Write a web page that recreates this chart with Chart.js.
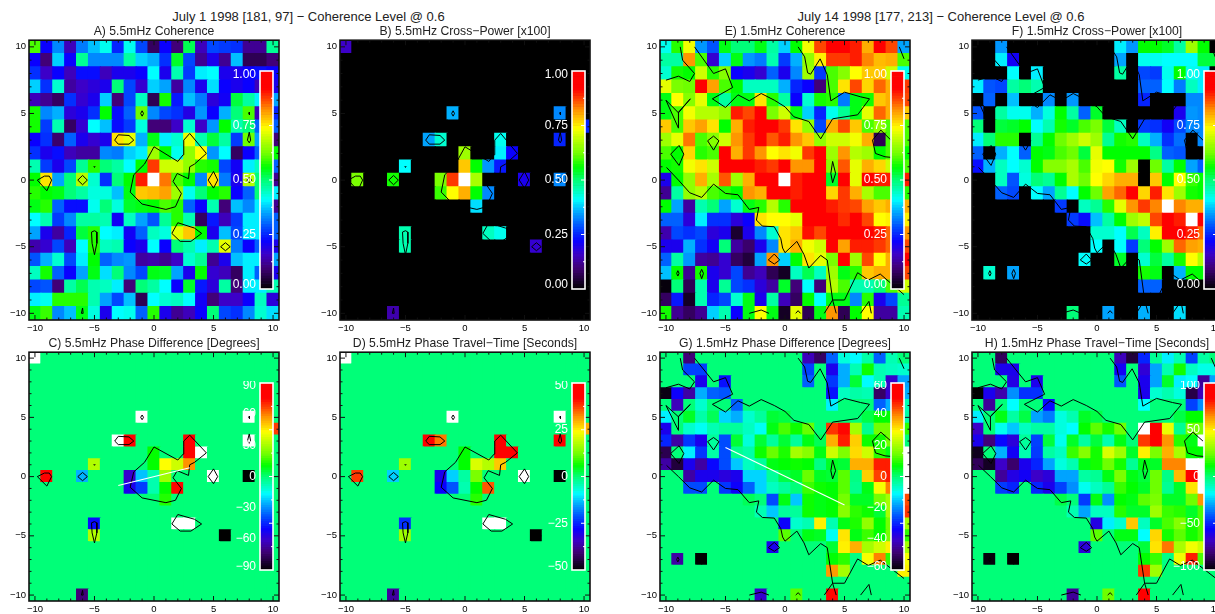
<!DOCTYPE html>
<html>
<head>
<meta charset="utf-8">
<title>Coherence</title>
<script src="https://cdn.jsdelivr.net/npm/chart.js@4"></script>
<style>
html, body { margin: 0; padding: 0; background: #fff; width: 1215px; height: 614px; overflow: hidden; }
canvas { position: absolute; }
.sup { position: absolute; top: 9px; width: 400px; text-align: center; font: 13px "Liberation Sans", sans-serif; color: #222; white-space: nowrap; }
</style>
</head>
<body>
<div class="sup" style="left:108.5px">July 1 1998 [181, 97] − Coherence Level @ 0.6</div>
<div class="sup" style="left:741px">July 14 1998 [177, 213] − Coherence Level @ 0.6</div>
<script>
//grid axes, y goes top to bottom
const xCells = [-10,-9,-8,-7,-6,-5,-4,-3,-2,-1,0,1,2,3,4,5,6,7,8,9,10];
const yCells = [10,9,8,7,6,5,4,3,2,1,0,-1,-2,-3,-4,-5,-6,-7,-8,-9,-10];
const majorTicks = [-10,-5,0,5,10];
const minorTicks = [-9,-8,-7,-6,-4,-3,-2,-1,1,2,3,4,6,7,8,9];

//A) 5.5mHz coherence, full grid
const coherence55 = [
 [.6,.22,.33,.15,.32,.37,.42,.25,.42,.28,.08,.22,.1,.52,.15,.28,.27,.26,.12,.12,.48],
 [.22,.1,.38,.22,.48,.33,.33,.33,.47,.38,.36,.26,.54,.28,.12,.2,.12,.37,.07,.07,.1],
 [.26,.16,.22,.15,.23,.23,.15,.2,.2,.22,.41,.2,.46,.27,.4,.41,.2,.2,.22,.23,.22],
 [.38,.26,.44,.13,.16,.18,.2,.5,.28,.17,.38,.35,.13,.33,.2,.39,.22,.2,.22,.15,.2],
 [.15,.12,.08,.26,.17,.2,.38,.1,.28,.45,.07,.57,.24,.37,.32,.18,.21,.53,.47,.4,.35],
 [.57,.33,.36,.18,.2,.26,.56,.23,.3,.62,.33,.28,.26,.19,.34,.22,.36,.5,.6,.15,.25],
 [.57,.27,.46,.08,.17,.41,.37,.23,.27,.43,.1,.1,.16,.44,.16,.34,.56,.46,.5,.3,.3],
 [.22,.26,.09,.3,.2,.17,.2,.76,.72,.36,.55,.4,.44,.73,.46,.53,.47,.27,.62,.35,.1],
 [.26,.2,.23,.15,.13,.13,.33,.32,.38,.4,.66,.56,.42,.65,.74,.34,.41,.08,.22,.3,.56],
 [.46,.27,.2,.28,.48,.58,.5,.47,.41,.56,.88,.7,.7,.65,.58,.57,.28,.21,.4,.45,.3],
 [.56,.76,.35,.5,.68,.44,.26,.5,.56,.9,1.05,.84,.6,.56,.33,.76,.32,.2,.68,.5,.12],
 [.58,.56,.55,.5,.47,.43,.43,.37,.55,.78,.79,.81,.66,.42,.5,.56,.58,.22,.3,.5,.4],
 [.55,.58,.3,.23,.23,.42,.5,.43,.54,.55,.56,.6,.58,.3,.22,.46,.1,.37,.33,.4,.12],
 [.41,.46,.27,.33,.47,.47,.46,.21,.45,.35,.29,.48,.58,.46,.08,.24,.15,.27,.4,.4,.3],
 [.35,.2,.13,.25,.53,.58,.41,.4,.21,.3,.45,.43,.72,.78,.56,.2,.37,.28,.4,.4,.3],
 [.14,.17,.28,.15,.41,.58,.45,.46,.22,.2,.41,.22,.5,.46,.4,.46,.72,.32,.22,.3,.2],
 [.29,.36,.44,.28,.4,.56,.3,.33,.34,.13,.14,.12,.16,.44,.48,.12,.2,.37,.4,.4,.35],
 [.45,.57,.3,.22,.35,.55,.39,.5,.33,.28,.55,.54,.35,.2,.56,.17,.15,.08,.4,.3,.2],
 [.28,.29,.1,.47,.52,.46,.45,.4,.1,.5,.47,.41,.22,.54,.24,.18,.47,.1,.4,.4,.46],
 [.4,.42,.58,.58,.58,.46,.35,.28,.37,.07,.41,.44,.45,.41,.21,.1,.16,.16,.22,.45,.18],
 [.55,.59,.33,.37,.55,.43,.2,.41,.42,.3,.58,.2,.12,.15,.22,.5,.28,.26,.33,.44,.39]
];

//E) 1.5mHz coherence, full grid
const coherence15 = [
 [.42,.58,.73,.34,.29,.55,.5,.5,.55,.47,.38,.56,.73,.87,.92,.92,.9,.8,.92,.87,.35],
 [.47,.47,.82,.6,.17,.38,.55,.34,.32,.46,.27,.36,.65,.75,.88,.88,.9,.83,.79,.8,.6],
 [.44,.57,.56,.7,.58,.64,.22,.2,.17,.3,.2,.33,.66,.27,.6,.64,.74,.78,.78,.7,.42],
 [.72,.63,.62,.92,.81,.6,.56,.45,.45,.45,.36,.25,.22,.1,.6,.76,.87,.77,.85,.8,.88],
 [.55,.74,.64,.72,.55,.47,.55,.55,.76,.58,.47,.22,.44,.57,.58,.32,.55,.57,.78,.8,.87],
 [.55,.6,.73,.68,.68,.65,.9,.87,.92,.63,.7,.55,.38,.25,.42,.48,.55,.72,.85,.8,.78],
 [.78,.6,.78,.81,.76,.56,.8,.9,.95,.92,.88,.76,.65,.28,.8,.87,.78,.6,.65,.6,.6],
 [.66,.72,.84,.6,.64,.7,.82,.88,.93,.86,.9,.82,.78,.65,.7,.7,.73,.8,.07,.6,.6],
 [.6,.56,.77,.58,.6,.92,.8,.88,.82,.74,.76,.73,.88,.92,.66,.82,.68,.66,.56,.6,.56],
 [.56,.57,.73,.76,.7,.92,.92,.92,.9,.88,.95,.82,.82,.93,.64,.86,.72,.8,.77,.7,.6],
 [.2,.56,.65,.8,.67,.86,.66,.8,.95,.96,1.05,.9,.93,.95,.54,.92,.72,.93,.9,.9,.9],
 [.12,.47,.65,.68,.6,.58,.56,.82,.8,.95,.95,.9,.93,.95,.77,.88,.8,.67,.6,.6,.58],
 [.56,.35,.13,.46,.5,.35,.44,.55,.58,.68,.58,.95,.95,.95,.9,.88,.87,.81,.78,.8,.8],
 [.3,.3,.18,.4,.26,.26,.18,.22,.76,.74,.74,.72,.95,.95,.95,.89,.93,.87,.74,.75,.75],
 [.14,.28,.26,.28,.18,.2,.04,.2,.33,.44,.76,.78,.91,.87,.95,.92,.93,.93,.9,.85,.82],
 [.2,.2,.36,.26,.21,.5,.13,.09,.2,.33,.76,.8,.73,.7,.93,.81,.9,.9,.88,.85,.87],
 [.3,.47,.34,.13,.12,.17,.08,.05,.35,.82,.38,.56,.76,.72,.63,.95,.66,.87,.74,.8,.92],
 [.37,.56,.12,.57,.2,.17,.28,.12,.15,.07,.03,.45,.52,.45,.66,.55,.58,.78,.8,.8,.87],
 [.01,.5,.07,.46,.2,.48,.28,.26,.18,.13,.54,.1,.41,.1,.68,.6,.46,.46,.5,.6,.7],
 [.08,.24,.03,.46,.25,.28,.44,.55,.2,.47,.15,.08,.56,.41,.55,.55,.33,.58,.2,.28,.48],
 [.57,.12,.08,.12,.38,.46,.22,.55,.74,.55,.03,.72,.07,.55,.82,.07,.56,.74,.13,.13,.46]
];

//sparse panels: each row is y, then x,value pairs. Everything else stays at zero
const crossPower55 = [
 [10, -10,.16],
 [5, -1,.36, 8,.33],
 [4, 10,.25],
 [3, -3,.35, -2,.44, 3,.42, 8,.25],
 [2, 0,.66, 3,.4, 4,.22],
 [1, -5,.41, 0,.78, 1,.56, 2,.34, 3,.24],
 [0, -9,.63, -6,.57, -2,.63, -1,.88, 0,1.05, 1,.67, 5,.2, 8,.33],
 [-1, -2,.59, -1,.74, 0,.8, 1,.56, 2,.33],
 [-2, 1,.39],
 [-4, -5,.46, 2,.45, 3,.42],
 [-5, -5,.46, 6,.17],
 [-10, -6,.14]
];
const phaseDeg55 = [
 [10, -10,100],
 [5, -1,100, 8,100],
 [4, 10,68],
 [3, -3,100, -2,80, 3,85, 8,100],
 [2, 0,11, 3,85, 4,100],
 [1, -5,32, 0,11, 1,43, 2,36, 3,58],
 [0, -9,80, -6,-25, -2,-60, -1,-23, 0,-7, 1,29, 5,100, 8,-100],
 [-1, -2,-54, -1,-41, 0,-7, 1,11, 2,75],
 [-2, 1,14],
 [-4, -5,-49, 2,100, 3,100],
 [-5, -5,32, 6,-100],
 [-10, -6,-72]
];
const travelSec55 = [
 [10, -10,60],
 [5, -1,60, 8,60],
 [4, 10,30],
 [3, -3,45, -2,34, 3,45, 8,43],
 [2, 0,6, 3,45, 4,45],
 [1, -5,16, 0,6, 1,21, 2,18, 3,28],
 [0, -9,38, -6,-12, -2,-30, -1,-12, 0,-3, 1,13, 5,60, 8,-60],
 [-1, -2,-28, -1,-21, 0,-4, 1,6, 2,36],
 [-2, 1,8],
 [-4, -5,-24, 2,60, 3,60],
 [-5, -5,16, 6,-60],
 [-10, -6,-37]
];
const crossPower15 = [
 [10, -8,.34, 2,.4, 3,.34, 4,.56, 5,.56, 6,.54, 7,.47, 8,.66, 9,.56],
 [9, -8,.4, -7,.21, 2,.35, 4,.42, 5,.42, 6,.41, 7,.41, 8,.41, 9,.53, 10,.53],
 [8, -7,.41, -5,.4, 2,.47, 4,.28, 5,.27, 6,.42, 7,.56, 8,.42, 9,.4],
 [7, -10,.4, -9,.29, -8,.28, -7,.47, -6,.5, -5,.46, 4,.3, 5,.3, 6,.41, 7,.32, 8,.45, 9,.4],
 [6, -9,.3, -7,.37, -4,.33, -2,.34, 4,.25, 8,.33, 9,.33],
 [5, -10,.29, -8,.47, -7,.42, -6,.42, -5,.36, -4,.43, -3,.56, -2,.47, -1,.3, 0,.54, 7,.2, 8,.34, 9,.33],
 [4, -10,.5, -8,.53, -7,.54, -6,.56, -5,.41, -4,.46, -3,.57, -2,.54, -1,.6, 0,.63, 1,.53, 2,.45, 4,.27, 5,.26, 6,.21, 7,.28, 8,.33, 9,.33],
 [3, -10,.4, -9,.5, -8,.58, -7,.58, -5,.48, -4,.56, -3,.62, -2,.66, -1,.7, 0,.66, 1,.48, 2,.57, 3,.58, 4,.45, 5,.36, 6,.26, 7,.31, 9,.33],
 [2, -10,.3, -8,.36, -7,.41, -6,.3, -5,.56, -4,.55, -3,.6, -2,.62, -1,.53, 0,.72, 1,.56, 2,.56, 3,.56, 4,.56, 5,.49, 6,.3, 7,.29],
 [1, -10,.23, -9,.36, -8,.45, -7,.41, -6,.44, -5,.56, -4,.64, -3,.64, -2,.67, -1,.6, 0,.73, 1,.74, 2,.57, 3,.66, 5,.62, 6,.47, 7,.56, 8,.35, 9,.3],
 [0, -8,.45, -7,.29, -6,.43, -5,.5, -4,.48, -3,.56, -2,.67, -1,.62, 0,.74, 1,.77, 2,.8, 3,.8, 5,.78, 6,.56, 7,.74, 8,.59, 9,.56],
 [-1, -8,.3, -7,.28, -5,.41, -4,.35, -3,.48, -2,.41, -1,.56, 0,.62, 1,.81, 2,.85, 3,.93, 4,.77, 5,.9, 6,.76, 7,.66, 8,.57, 9,.56],
 [-2, -3,.27, -1,.45, 0,.48, 1,.58, 2,.72, 3,.82, 4,.88, 5,.83, 6,1.05, 7,.83, 8,.8, 9,.8],
 [-3, -2,.27, -1,.23, 0,.37, 1,.47, 2,.56, 3,.66, 4,.69, 5,.87, 6,.95, 7,.9, 8,1.05, 9,.93],
 [-4, 0,.44, 1,.44, 2,.41, 3,.52, 4,.45, 5,.75, 6,.95, 7,.93, 8,.9, 9,.85],
 [-5, 0,.41, 2,.41, 3,.27, 4,.5, 5,.56, 6,.66, 7,.85, 8,.81, 9,.8],
 [-6, -1,.41, 2,.54, 4,.44, 5,.53, 6,.47, 7,.57, 8,.74, 9,.68],
 [-7, -9,.44, -7,.35, 4,.57, 5,.55, 7,.36, 8,.56, 9,.56],
 [-8, 4,.3, 5,.3],
 [-10, -2,.5, 1,.35, 4,.36, 7,.39]
];
const phaseDeg15 = [
 [10, -8,-48, 2,-42, 3,-50, 4,-24, 5,-8, 6,-11, 7,-4, 8,-24, 9,-5],
 [9, -8,-27, -7,-27, 2,-27, 4,-36, 5,-17, 6,-5, 7,8, 8,-5, 9,-6, 10,-7],
 [8, -7,-36, -5,-32, 2,-24, 4,-28, 5,-17, 6,4, 7,-11, 8,-5, 9,-40, 10,-18],
 [7, -10,-58, -9,-34, -8,-44, -7,-17, -6,-24, -5,-25, 4,-32, 5,-6, 6,-4, 7,-5, 8,-50, 9,-40, 10,-17],
 [6, -9,-42, -7,-7, -4,-24, 4,-12, 8,-24, 9,-17, 10,-5],
 [5, -10,-12, -8,5, -7,-4, -6,2, -5,-14, -4,-17, -3,-7, -2,-3, -1,4, 0,3, 7,3, 8,7, 9,7, 10,-4],
 [4, -10,-36, -8,-7, -7,-10, -6,-5, -5,-3, -4,-3, -3,-6, -2,-10, -1,6, 0,12, 1,8, 2,14, 4,46, 5,50, 6,20, 7,-2, 8,15, 9,15, 10,10],
 [3, -10,-30, -9,-44, -8,-28, -7,-36, -6,-3, -5,-26, -4,4, -3,-8, -2,4, -1,-3, 0,4, 1,-3, 2,6, 3,2, 4,36, 5,48, 6,33, 7,8, 8,8, 9,15],
 [2, -10,-52, -8,-12, -7,-28, -6,-4, -5,-26, -4,-2, -3,-4, -2,8, -1,14, 0,9, 1,20, 2,17, 3,6, 4,24, 5,16, 6,32, 7,24, 8,10, 9,6, 10,65],
 [1, -10,-44, -9,-54, -8,-36, -7,-44, -6,-33, -5,-26, -4,-15, -3,-6, -2,-3, -1,6, 0,7, 1,8, 2,7, 3,-1, 4,5, 5,4, 6,36, 7,36, 8,48, 9,48, 10,65],
 [0, -8,-44, -7,-36, -6,-36, -5,-38, -4,-36, -3,-14, -2,-14, -1,-3, 0,3, 1,5, 2,14, 3,5, 4,4, 5,13, 6,-1, 7,33, 8,45, 9,48, 10,65],
 [-1, -8,-26, -7,-26, -5,-28, -4,-34, -3,-24, -2,-14, -1,-6, 0,-3, 2,11, 3,8, 4,7, 5,13, 6,-2, 7,6, 8,28, 9,40, 10,62],
 [-2, -3,2, -1,-26, 0,6, 1,-15, 2,8, 3,6, 4,7, 5,15, 6,5, 7,5, 8,15, 9,20, 10,44],
 [-3, -2,-5, -1,-15, 0,-3, 1,-3, 2,8, 3,6, 4,7, 5,17, 6,10, 7,8, 8,4, 9,20, 10,46],
 [-4, 0,-34, 1,-7, 2,-5, 3,30, 4,-5, 5,6, 6,9, 7,18, 8,7, 9,15, 10,20],
 [-5, 0,13, 2,6, 3,5, 4,-10, 5,31, 6,6, 7,11, 8,7, 9,15, 10,10],
 [-6, -1,-36, 4,4, 5,30, 6,36, 7,20, 8,24, 9,30, 10,20],
 [-7, -9,-44, -7,-60, 4,7, 5,10, 6,-1, 7,28, 8,40, 9,10, 10,28],
 [-8, 4,38, 5,20, 10,30],
 [-10, -2,-40, 1,13, 4,50]
];
const travelSec15 = [
 [10, -8,-85, 2,-70, 3,-90, 4,-50, 5,-4, 6,-20, 7,-8, 8,-45, 9,-6],
 [9, -8,-60, -7,-60, 2,-58, 4,-65, 5,-30, 6,-8, 7,14, 8,-10, 9,-15, 10,-15],
 [8, -7,-62, -5,-60, 2,-42, 4,-60, 5,-30, 6,8, 7,-20, 8,-18, 9,-75, 10,-30],
 [7, -10,-100, -9,-60, -8,-72, -7,-33, -6,-48, -5,-48, 4,-60, 5,-12, 6,-8, 7,-14, 8,-88, 9,-70],
 [6, -9,-75, -7,-18, -4,-55, 4,-18, 8,-45, 9,-33],
 [5, -10,-20, -8,10, -7,-6, -6,5, -5,-30, -4,-36, -3,-14, -2,-8, -1,8, 0,5, 7,5, 8,12, 9,12],
 [4, -10,-68, -8,-16, -7,-25, -6,-10, -5,-6, -4,-6, -3,-14, -2,-18, -1,12, 0,22, 1,14, 2,24, 4,110, 5,90, 6,45, 7,-4, 8,25, 9,25],
 [3, -10,-60, -9,-80, -8,-55, -7,-64, -6,-5, -5,-45, -4,6, -3,-16, -2,8, -1,-6, 0,6, 1,-8, 2,10, 4,76, 5,88, 6,64, 7,16, 8,10, 9,110],
 [2, -10,-95, -8,-28, -7,-58, -6,-8, -5,-46, -4,-6, -3,-10, -2,18, -1,28, 0,14, 1,42, 2,32, 3,8, 4,50, 5,26, 6,60, 7,34, 8,12, 9,12],
 [1, -10,-85, -9,-94, -8,-68, -7,-82, -6,-60, -5,-50, -4,-30, -3,-14, -2,-8, -1,10, 0,14, 1,24, 2,14, 3,-4, 4,10, 5,8, 6,66, 7,66, 8,110, 9,110],
 [0, -8,-75, -7,-62, -6,-58, -5,-68, -4,-64, -3,-30, -2,-30, -1,-6, 0,-4, 1,10, 2,26, 3,10, 4,6, 5,24, 6,-2, 7,58, 8,88, 9,110],
 [-1, -8,-46, -7,-50, -5,-50, -4,-60, -3,-45, -2,-33, -1,-16, 0,-10, 1,-4, 2,18, 3,12, 4,8, 5,24, 6,-4, 7,8, 8,52, 9,110],
 [-2, -3,5, -1,-46, 0,10, 1,-33, 2,12, 3,10, 4,22, 5,26, 6,8, 7,8, 8,24, 9,64],
 [-3, -2,-8, -1,-30, 0,-10, 1,-10, 2,16, 3,8, 4,8, 5,32, 6,18, 7,16, 8,8, 9,20],
 [-4, 0,-62, 1,-20, 2,-12, 3,56, 4,-10, 5,8, 6,20, 7,28, 8,14, 9,20],
 [-5, 0,22, 2,10, 3,10, 4,-18, 5,54, 6,14, 7,22, 8,14, 9,20],
 [-6, -1,-64, 4,6, 5,52, 6,68, 7,34, 8,46, 9,40],
 [-7, -9,-98, -7,-100, 4,12, 5,18, 6,-2, 7,46, 8,80, 9,20],
 [-8, 4,76, 5,32],
 [-10, -2,-75, 1,24, 4,92]
];

//coherence level 0.6 contours
const contours55 = [
 [[0,2.5],[2,1.4],[2.45,1.9],[2.5,3],[3,3.5],[4.4,2],[3.4,1.2],[3,1],[2.9,.1],[1.95,.5],[1.6,-.1],[2.3,-1],[1.8,-2],[1,-2.2],[-1,-1.8],[-2,-.9],[-1.7,.4],[-.8,1.2],[0,2.5]],
 [[-3.3,3],[-3,3.4],[-2.1,3.35],[-1.7,3],[-2.1,2.7],[-3,2.7],[-3.3,3]],
 [[-9.8,0],[-9.2,.3],[-8.8,.3],[-8.6,0],[-9,-.8],[-9.8,0]],
 [[-6.4,0],[-6,.35],[-5.6,0],[-6,-.35],[-6.4,0]],
 [[4.55,0],[5,.65],[5.35,0],[5,-.6],[4.55,0]],
 [[-1,5.2],[-.88,5],[-1,4.8],[-1.12,5],[-1,5.2]],
 [[8,5.1],[8.04,5],[8,4.9],[7.96,5],[8,5.1]],
 [[8,3.6],[8.12,3],[8,2.8],[7.85,3],[8,3.6]],
 [[-5,-3.8],[-4.8,-3.9],[-4.8,-4.75],[-5,-5.6],[-5.2,-4.75],[-5.25,-3.9],[-5,-3.8]],
 [[-6,-9.6],[-5.95,-10],[-6.1,-10],[-6,-9.6]],
 [[2,-3.2],[3.4,-3.6],[4,-4],[3.1,-4.6],[2.2,-4.6],[1.5,-4],[2,-3.2]],
 [[5.6,-5],[6,-4.7],[6.4,-5],[6,-5.3],[5.6,-5]],
 [[-5,1.05],[-4.95,1],[-5,.95],[-5.05,1],[-5,1.05]],
 [[7.8,0],[8,.2],[8.2,0],[8,-.2],[7.8,0]]
];
const contours15 = [
 [[-10,7.5],[-8.95,7.8],[-8,7.4],[-7.6,8],[-8.6,9],[-8.8,10]],
 [[-7.6,10],[-6,8],[-5,8.35],[-4.4,6.95],[-6.1,6.1],[-5,5.45],[-3.95,6.4],[-3,5.95],[-2,6.5],[-.9,6],[0,5.5],[.75,4.75],[2,4.4],[3,3.1],[4,4.6],[6.1,4.9],[7.1,6.1],[6.35,6.25],[5,6.6],[3.85,5.95],[3.55,7.9],[2.95,9.1],[2.15,7.95],[1.9,8.05],[1.65,9.25],[1.1,10]],
 [[-10,6],[-8.95,3.9],[-8.95,5.1],[-7.95,6.1],[-8.95,5.05],[-10,6]],
 [[-9.6,1.95],[-8.9,2.6],[-8.5,1.95],[-8.9,1.1],[-9.6,1.95]],
 [[-6.5,2.95],[-6,3.3],[-5.55,2.95],[-6,2.25],[-6.5,2.95]],
 [[-9.95,.95],[-8.95,0],[-8,-.95],[-7,-1.3],[-6,-.3],[-5,-1],[-3.95,-1.1],[-3,-2.2],[-2.2,-2.05],[-2.4,-3],[-1.9,-3.45],[-.9,-3.5],[-.35,-4.4],[-.2,-5.1],[0,-5.45],[1,-4.6],[1.6,-5.6],[2,-6.6],[3,-5.65],[3.55,-6],[4,-9],[5,-9],[6.1,-6.95],[7,-7.5],[8,-7.05],[10,-8.6]],
 [[3.3,-10],[4,-9],[4.3,-10]],
 [[6.35,-10],[7.05,-9.1],[7.25,-10]],
 [[-1.4,-6],[-.9,-5.55],[-.45,-6],[-.9,-6.3],[-1.4,-6]],
 [[-9,-6.8],[-8.9,-7],[-9,-7.2],[-9.1,-7],[-9,-6.8]],
 [[-7,-6.7],[-6.85,-7],[-7,-7.4],[-7.15,-7],[-7,-6.7]],
 [[4,1.4],[4.25,.5],[4,-.2],[3.85,.5],[4,1.4]],
 [[-3,-10],[-2,-9.75],[-1.35,-10]],
 [[.9,-10],[1.1,-9.8],[1.3,-10]],
 [[8.9,3],[8.05,3.75],[7.35,3],[7.6,2],[8.4,1.75],[9,1.7]],
 [[9.6,10],[10,9.1]]
];
//white fit lines in C and G
const fitLineC = [[-3,-.75],[3,.75]];
const fitLineG = [[-5,2.45],[5,-2.4]];

//colour bar tick labels
const barTicks01 = [0,.25,.5,.75,1];
const barLabels01 = ["0.00","0.25","0.50","0.75","1.00"];
const barTicksC = [-90,-60,-30,0,30,60,90];
const barTicksD = [-50,-25,0,25,50];
const barTicksG = [-60,-40,-20,0,20,40,60];
const barTicksH = [-100,-50,0,50,100];

//rainbow + white table
const colorStops = [
 [0,0,0,0],[.1,65,0,120],[.16,60,0,200],[.22,10,0,255],[.28,0,70,255],[.36,0,176,255],[.41,0,255,255],
 [.46,0,255,176],[.5,0,255,120],[.56,0,255,0],[.62,110,255,0],[.68,180,255,0],[.74,255,255,0],
 [.78,255,200,0],[.82,255,150,0],[.87,255,70,0],[.92,255,0,0],[1,255,0,0]
];
function colorAt(n) {
  if (n > 1) return "#ffffff";
  if (n <= 0) return "#000000";
  for (let i = 1; i < colorStops.length; i++) {
    let a = colorStops[i-1], b = colorStops[i];
    if (n <= b[0]) {
      let t = (n - a[0]) / (b[0] - a[0]);
      return "rgb(" + Math.round(a[1] + (b[1]-a[1])*t) + "," + Math.round(a[2] + (b[2]-a[2])*t) + "," + Math.round(a[3] + (b[3]-a[3])*t) + ")";
    }
  }
  return "#ff0000";
}

//turn sparse rows into a full grid
function fullGrid(rows) {
  let grid = yCells.map(() => xCells.map(() => 0));
  rows.forEach(r => {
    let row = yCells.indexOf(r[0]);
    for (let i = 1; i < r.length; i += 2) grid[row][xCells.indexOf(r[i])] = r[i+1];
  });
  return grid;
}

function signed(v) { return v < 0 ? "−" + (-v) : String(v); }

//inward major and minor ticks on all four sides, IDL style
const framePlugin = {
  id: "frameTicks",
  afterDatasetsDraw(chart) {
    let a = chart.chartArea, c = chart.ctx, sx = chart.scales.x, sy = chart.scales.y;
    c.save();
    c.strokeStyle = "#111";
    c.lineWidth = 1;
    c.beginPath();
    [[majorTicks,5],[minorTicks,2.5]].forEach(set => {
      set[0].forEach(v => {
        let px = sx.getPixelForValue(v), py = sy.getPixelForValue(v);
        c.moveTo(px, a.bottom); c.lineTo(px, a.bottom - set[1]);
        c.moveTo(px, a.top); c.lineTo(px, a.top + set[1]);
        c.moveTo(a.left, py); c.lineTo(a.left + set[1], py);
        c.moveTo(a.right, py); c.lineTo(a.right - set[1], py);
      });
    });
    c.stroke();
    c.lineWidth = 1.6;
    c.strokeRect(a.left, a.top, a.right - a.left, a.bottom - a.top);
    c.restore();
  }
};

//white outline on the colour bars, with little ticks on the right edge
const barFramePlugin = {
  id: "barFrame",
  afterDatasetsDraw(chart) {
    let a = chart.chartArea, c = chart.ctx, sy = chart.scales.y;
    let lo = sy.min, hi = sy.max;
    c.save();
    c.strokeStyle = "#fff";
    c.lineWidth = 1;
    c.beginPath();
    for (let k = 1; k < 8; k++) {
      let py = sy.getPixelForValue(lo + (hi - lo) * k / 8);
      c.moveTo(a.right, py); c.lineTo(a.right - (k % 2 ? 2 : 4), py);
    }
    c.stroke();
    c.lineWidth = 1.6;
    c.strokeRect(a.left, a.top, a.right - a.left, a.bottom - a.top);
    c.restore();
  }
};

function addCanvas(left, top, w, h) {
  let cv = document.createElement("canvas");
  cv.width = w; cv.height = h;
  cv.style.left = left + "px";
  cv.style.top = top + "px";
  cv.style.width = w + "px";
  cv.style.height = h + "px";
  document.body.appendChild(cv);
  return cv;
}

function drawPanel(p) {
  let cells = [], colors = [];
  yCells.forEach((y, r) => {
    xCells.forEach((x, i) => {
      cells.push({x: x, y: [y - .5, y + .5]});
      colors.push(colorAt((p.grid[r][i] - p.vmin) / (p.vmax - p.vmin)));
    });
  });
  //inflate a bit so no white seams show between rows
  let datasets = [{type: "bar", data: cells, backgroundColor: colors, borderWidth: 0, inflateAmount: .6, barPercentage: 1, categoryPercentage: 1, order: 2}];
  p.contours.forEach(line => {
    datasets.push({type: "line", data: line.map(q => ({x: q[0], y: q[1]})), borderColor: "#000", borderWidth: 1, pointRadius: 0, fill: false, tension: 0, order: 1});
  });
  if (p.fit) {
    datasets.push({type: "line", data: p.fit.map(q => ({x: q[0], y: q[1]})), borderColor: "#fff", borderWidth: 1.2, pointRadius: 0, fill: false, order: 0});
  }
  let axisFont = {family: "'Liberation Sans', sans-serif", size: 9.5};
  let axis = {
    type: "linear", min: -10.5, max: 10.5, offset: false,
    grid: {display: false, drawTicks: false}, border: {display: false},
    afterBuildTicks: s => { s.ticks = majorTicks.map(v => ({value: v})); },
    ticks: {color: "#000", font: axisFont, autoSkip: false, maxRotation: 0, padding: 3, callback: v => signed(v)}
  };
  new Chart(addCanvas(p.left - 28, p.top - 16, 28 + 250 + 8, 16 + p.h + 16), {
    type: "bar",
    data: {datasets: datasets},
    plugins: [framePlugin],
    options: {
      responsive: false, animation: false, events: [],
      layout: {autoPadding: false, padding: {right: 8}},
      plugins: {
        legend: {display: false}, tooltip: {enabled: false},
        title: {display: true, fullSize: false, text: p.title, color: "#222", padding: {top: 2, bottom: 2},
          font: {family: "'Liberation Sans', sans-serif", size: 12.2, weight: "normal", lineHeight: 1}}
      },
      scales: {
        x: Object.assign({}, axis, {position: "bottom", afterFit: s => { s.height = 16; }}),
        y: Object.assign({}, axis, {position: "left", afterFit: s => { s.width = 28; }})
      }
    }
  });
  drawColorBar(p);
}

function drawColorBar(p) {
  let levels = [], colors = [], n = 80, range = p.vmax - p.vmin;
  for (let i = 0; i < n; i++) {
    levels.push({x: 0, y: [p.vmin + range * i / n, p.vmin + range * (i + 1) / n]});
    colors.push(colorAt((i + .5) / n));
  }
  //the end labels sit slightly inside the bar
  let tickPos = p.barTicks.map((v, i) => i === 0 ? v + range * .02 : i === p.barTicks.length - 1 ? v - range * .017 : v);
  let labels = p.barLabels || p.barTicks.map(signed);
  new Chart(addCanvas(p.barX - 40, p.barTop - 2, 40 + 13 + 4, p.barH + 4), {
    type: "bar",
    data: {datasets: [{data: levels, backgroundColor: colors, borderWidth: 0, barPercentage: 1, categoryPercentage: 1}]},
    plugins: [barFramePlugin],
    options: {
      responsive: false, animation: false, events: [],
      layout: {autoPadding: false, padding: {top: 2, bottom: 2, right: 4}},
      plugins: {legend: {display: false}, tooltip: {enabled: false}},
      scales: {
        x: {type: "linear", min: -.5, max: .5, offset: false, display: false},
        y: {
          type: "linear", position: "left", min: p.vmin, max: p.vmax,
          grid: {display: false, drawTicks: false}, border: {display: false},
          afterFit: s => { s.width = 40; s.paddingTop = 0; s.paddingBottom = 0; },
          afterBuildTicks: s => { s.ticks = tickPos.map(v => ({value: v})); },
          ticks: {color: "#fff", padding: 4, autoSkip: false, font: {family: "'Liberation Sans', sans-serif", size: 12},
            callback: (v, i) => labels[i]}
        }
      }
    }
  });
}

const topRow = 39.5, bottomRow = 352;
const col1 = 28.5, col2 = 340, col3 = 660, col4 = 972;
[
 {title: "A) 5.5mHz Coherence", left: col1, top: topRow, h: 280, grid: coherence55, vmin: 0, vmax: 1, contours: contours55, barX: 259.5, barTop: 71, barH: 218, barTicks: barTicks01, barLabels: barLabels01},
 {title: "B) 5.5mHz Cross−Power [x100]", left: col2, top: topRow, h: 280, grid: fullGrid(crossPower55), vmin: 0, vmax: 1, contours: contours55, barX: 571.5, barTop: 71, barH: 218, barTicks: barTicks01, barLabels: barLabels01},
 {title: "E) 1.5mHz Coherence", left: col3, top: topRow, h: 280, grid: coherence15, vmin: 0, vmax: 1, contours: contours15, barX: 891, barTop: 71, barH: 218, barTicks: barTicks01, barLabels: barLabels01},
 {title: "F) 1.5mHz Cross−Power [x100]", left: col4, top: topRow, h: 280, grid: fullGrid(crossPower15), vmin: 0, vmax: 1, contours: contours15, barX: 1203.5, barTop: 71, barH: 218, barTicks: barTicks01, barLabels: barLabels01},
 {title: "C) 5.5mHz Phase Difference [Degrees]", left: col1, top: bottomRow, h: 249, grid: fullGrid(phaseDeg55), vmin: -90, vmax: 90, contours: contours55, fit: fitLineC, barX: 259.5, barTop: 382.5, barH: 187, barTicks: barTicksC},
 {title: "D) 5.5mHz Phase Travel−Time [Seconds]", left: col2, top: bottomRow, h: 249, grid: fullGrid(travelSec55), vmin: -50, vmax: 50, contours: contours55, barX: 571.5, barTop: 382.5, barH: 187, barTicks: barTicksD},
 {title: "G) 1.5mHz Phase Difference [Degrees]", left: col3, top: bottomRow, h: 249, grid: fullGrid(phaseDeg15), vmin: -60, vmax: 60, contours: contours15, fit: fitLineG, barX: 891, barTop: 382.5, barH: 187, barTicks: barTicksG},
 {title: "H) 1.5mHz Phase Travel−Time [Seconds]", left: col4, top: bottomRow, h: 249, grid: fullGrid(travelSec15), vmin: -100, vmax: 100, contours: contours15, barX: 1203.5, barTop: 382.5, barH: 187, barTicks: barTicksH}
].forEach(drawPanel);
</script>
</body>
</html>
